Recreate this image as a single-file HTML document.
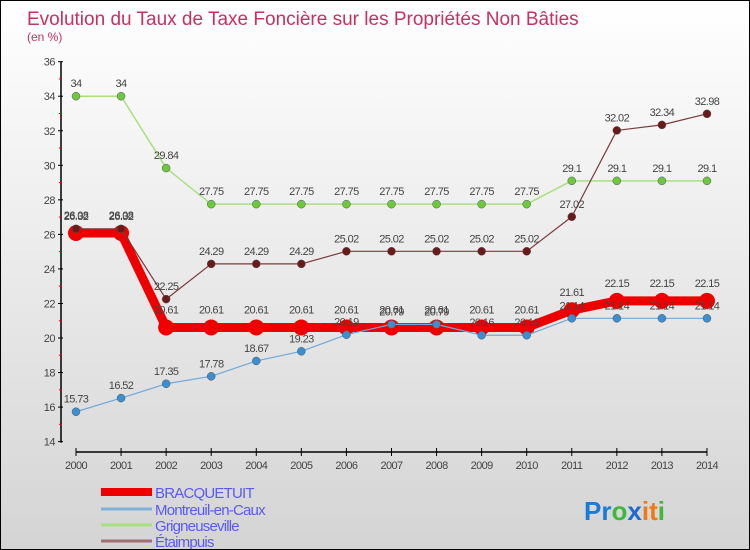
<!DOCTYPE html>
<html><head><meta charset="utf-8"><style>
body{margin:0;width:750px;height:550px;overflow:hidden;font-family:"Liberation Sans",sans-serif}
#wrap{position:relative;width:748px;height:548px;border:1px solid #000;background:linear-gradient(#ffffff,#d4d4d4)}
</style></head><body>
<div id="wrap">
<svg id="chart" width="748" height="548" style="position:absolute;left:0;top:0"></svg>
</div>
<script>
const years=[2000,2001,2002,2003,2004,2005,2006,2007,2008,2009,2010,2011,2012,2013,2014];
const yTicks=[14,16,18,20,22,24,26,28,30,32,34,36];
const bracquetuit=[26.08,26.08,20.61,20.61,20.61,20.61,20.61,20.61,20.61,20.61,20.61,21.61,22.15,22.15,22.15];
const montreuil=[15.73,16.52,17.35,17.78,18.67,19.23,20.19,20.79,20.79,20.16,20.16,21.14,21.14,21.14,21.14];
const grigneuseville=[34,34,29.84,27.75,27.75,27.75,27.75,27.75,27.75,27.75,27.75,29.1,29.1,29.1,29.1];
const etaimpuis=[26.32,26.32,22.25,24.29,24.29,24.29,25.02,25.02,25.02,25.02,25.02,27.02,32.02,32.34,32.98];
const seriesNames=["BRACQUETUIT","Montreuil-en-Caux","Grigneuseville","Étaimpuis"];

const NS="http://www.w3.org/2000/svg";
const svg=document.getElementById('chart');
const X=i=>75+i*45.07;
const Y=v=>337-(v-20)*17.27;
function mk(tag,attrs,parent){const e=document.createElementNS(NS,tag);for(const k in attrs)e.setAttribute(k,attrs[k]);(parent||svg).appendChild(e);return e;}
function txt(x,y,s,attrs){const t=mk('text',Object.assign({x:x,y:y},attrs));t.textContent=s;return t;}

let t=txt(26,24,"Evolution du Taux de Taxe Foncière sur les Propriétés Non Bâties",{fill:'#c8305f','font-size':19});


t=txt(26,40,"(en %)",{fill:'#c8305f','font-size':12});



let ax=mk('line',{x1:60,y1:Y(36),x2:60,y2:Y(14)+1,stroke:'#000','stroke-width':1.5});


yTicks.forEach(v=>{
  mk('line',{x1:57,y1:Y(v),x2:62,y2:Y(v),stroke:'#000'});
  if(v<36)mk('line',{x1:58,y1:Y(v+1),x2:61,y2:Y(v+1),stroke:'#e00'});
  const l=txt(54,Y(v)+4,String(v),{fill:'#444','font-size':11,'text-anchor':'end','letter-spacing':'-0.5'});
  
  
});
ax=mk('line',{x1:X(0),y1:451,x2:X(14),y2:451,stroke:'#000','stroke-width':1.5});


years.forEach((yr,i)=>{
  mk('line',{x1:X(i),y1:447,x2:X(i),y2:455,stroke:'#000'});
  const l=txt(X(i),468,String(yr),{fill:'#444','font-size':11,'text-anchor':'middle','letter-spacing':'-0.6'});
  
  
});

function series(data,name,color,dot,lw,r,labelDy){
  const g=mk('g',{});
  
  
  const pts=data.map((v,i)=>X(i)+','+Y(v)).join(' ');
  mk('polyline',{points:pts,fill:'none',stroke:color,'stroke-width':lw,'stroke-linejoin':'round'},g);
  data.forEach((v,i)=>{
    const c=mk('circle',{cx:X(i),cy:Y(v),r:r,fill:dot,stroke:lw>3?'none':'#555','stroke-width':0.5},g);
    
    
    const l=txt(X(i),Y(v)-labelDy,String(v),{fill:'#444','font-size':11,'text-anchor':'middle','letter-spacing':'-0.6'});
    g.appendChild(l);
    
    
  });
}
series(bracquetuit,'bracquetuit','#ee0000','#ee0000',9,8,14);
series(montreuil,'montreuil-en-caux','#6fa8d8','#3a8fd0',1.2,4,9);
series(grigneuseville,'grigneuseville','#a8e080','#6cc83c',1.5,4,9);
series(etaimpuis,'etaimpuis','#7a3a3a','#6a1a1a',1.2,4,9);

const legColors=['#ee0000','#80b0d8','#a8e080','#a07070'];
const legW=[8,3,3,3];
seriesNames.forEach((n,i)=>{
  const yy=[493,510,526,542][i];
  const g=mk('g',{});
  
  
  mk('line',{x1:100,y1:yy-2,x2:151,y2:yy-2,stroke:legColors[i],'stroke-width':legW[i]},g);
  const l=txt(154,yy+4,n,{fill:'#5a5af0','font-size':15,'letter-spacing':'-0.8'});
  g.appendChild(l);
});
const logo=txt(583,519,"",{'font-size':26,'font-weight':'bold'});


[['P','#1a7ad8'],['r','#1a7ad8'],['o','#3cb83c'],['x','#1a6ad0'],['i','#f07a10'],['t','#f07a10'],['i','#3cb83c']].forEach(([c,col])=>{
  const s=mk('tspan',{fill:col},logo);s.textContent=c;
});
</script>
</body></html>
